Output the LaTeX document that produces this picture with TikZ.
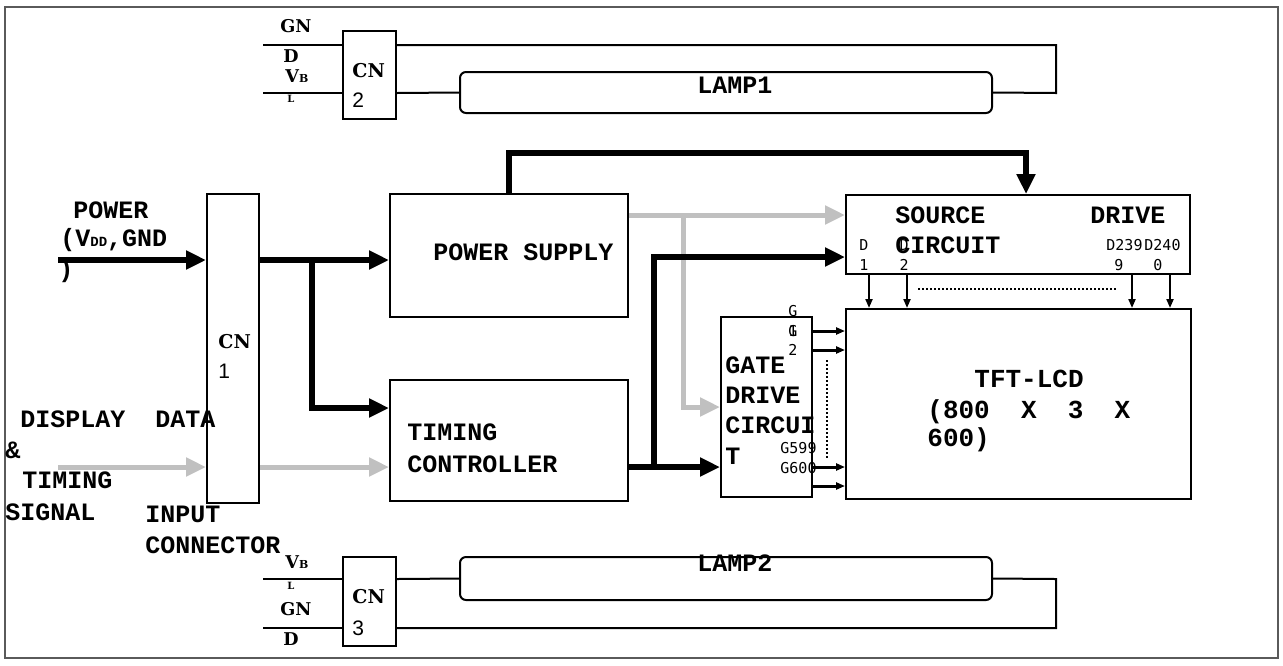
\documentclass[tikz,border=0pt]{standalone}
\usepackage{fontspec}
\setmainfont{Liberation Mono}
\newfontfamily\serifb{DejaVu Serif}
\newfontfamily\smono{DejaVu Sans Mono}
\newfontfamily\csans{Liberation Sans}
\usetikzlibrary{arrows.meta,fit}
\definecolor{grayc}{RGB}{192,192,192}
\definecolor{framec}{RGB}{90,90,90}
\begin{document}
\begin{tikzpicture}[x=0.5pt,y=-0.5pt,
  box/.style={draw, line width=1pt, inner sep=0pt},
  lampbox/.style={draw, line width=1pt, inner sep=0pt, rounded corners=3pt},
  wire/.style={line width=1pt},
  bigarrow/.style={line width=3pt, -{Triangle[length=10pt,width=9pt]}},
  grayarrow/.style={line width=2.5pt, color=grayc, -{Triangle[length=10pt,width=9pt]}},
  smallarrow/.style={line width=1pt, -{Triangle[length=4.5pt,width=3.5pt]}},
  gatearrow/.style={line width=1.5pt, -{Triangle[length=4.5pt,width=3.5pt]}},
  dotline/.style={line width=1pt, dash pattern=on 1pt off 1pt},
  txt/.style={anchor=base west, inner sep=0pt, font=\fontsize{12.5}{12.5}\selectfont\bfseries},
  bigtxt/.style={anchor=base west, inner sep=0pt, font=\fontsize{13}{13}\selectfont\bfseries},
  sertxt/.style={anchor=base west, inner sep=0pt, font=\serifb\bfseries\fontsize{8.8}{8.8}\selectfont},
  subtxt/.style={anchor=base west, inner sep=0pt, font=\serifb\bfseries\fontsize{5}{5}\selectfont},
  cntxt/.style={anchor=base west, inner sep=0pt, font=\serifb\bfseries\fontsize{9.5}{9.5}\selectfont},
  cnnum/.style={anchor=base west, inner sep=0pt, font=\csans\fontsize{10.5}{10.5}\selectfont},
  pintxt/.style={anchor=base, inner sep=0pt, font=\smono\fontsize{7.5}{7.5}\selectfont},
  pinw/.style={anchor=base west, inner sep=0pt, font=\smono\fontsize{7.5}{7.5}\selectfont}
]
\useasboundingbox (0,0) rectangle (1283,665);
\draw[line width=1pt, color=framec] (5,7) rectangle (1278,658);

% boxes
\node[box, fit={(343,31)(396,119)}] (cn2) {};
\node[box, fit={(343,557)(396,646)}] (cn3) {};
\node[lampbox, fit={(460,72)(992,113)}] (lamp1) {};
\node[lampbox, fit={(460,557)(992,600)}] (lamp2) {};
\node[box, fit={(207,194)(259,503)}] (cn1) {};
\node[box, fit={(390,194)(628,317)}] (ps) {};
\node[box, fit={(390,380)(628,501)}] (tc) {};
\node[box, fit={(846,195)(1190,274)}] (src) {};
\node[box, fit={(846,309)(1191,499)}] (tft) {};
\node[box, fit={(721,317)(812,497)}] (gate) {};

% lamp wires top
\coordinate (t1) at (263,45);
\coordinate (t2) at (263,93);
\coordinate (tr1) at (1056,45);
\coordinate (tr2) at (1056,93);
\draw[wire] (t1) -- (cn2.west |- t1);
\draw[wire] (cn2.east |- t1) -- (tr1) -- (tr2) -- (lamp1.east);
\draw[wire] (t2) -- (cn2.west |- t2);
\draw[wire] (cn2.east |- t2) -- (lamp1.west);

% lamp wires bottom
\coordinate (b1) at (263,579);
\coordinate (b2) at (263,628);
\coordinate (br1) at (1056,579);
\coordinate (br2) at (1056,628);
\draw[wire] (b1) -- (cn3.west |- b1);
\draw[wire] (cn3.east |- b1) -- (lamp2.west);
\draw[wire] (lamp2.east) -- (br1) -- (br2) -- (cn3.east |- br2);
\draw[wire] (b2) -- (cn3.west |- b2);

% power arrows
\coordinate (pin) at (58,260);
\draw[bigarrow] (pin) -- (cn1.west |- pin);
\draw[bigarrow] (cn1.east |- pin) -- (ps.west |- pin);
\coordinate (j1) at (312,260);
\coordinate (j1b) at (312,408);
\draw[bigarrow] (j1) -- (j1b) -- (tc.west |- j1b);
\coordinate (pt1) at (509,153);
\coordinate (pt2) at (1026,153);
\draw[bigarrow] (ps.north -| pt1) -- (pt1) -- (pt2) -- (src.north -| pt2);

% data arrows
\coordinate (din) at (58,467);
\draw[grayarrow] (din) -- (cn1.west |- din);
\draw[grayarrow] (cn1.east |- din) -- (tc.west |- din);
\coordinate (g1) at (683,215);
\coordinate (g2) at (683,407);
\draw[grayarrow] (ps.east |- g1) -- (src.west |- g1);
\draw[grayarrow] (g1) -- (g2) -- (gate.west |- g2);

\coordinate (k1) at (654,467);
\coordinate (k2) at (654,257);
\draw[bigarrow] (tc.east |- k1) -- (gate.west |- k1);
\draw[bigarrow] (k1) -- (k2) -- (src.west |- k2);

% source to tft
\foreach \xx in {869,907,1132,1170}{
  \coordinate (sx) at (\xx,0);
  \draw[smallarrow] (src.south -| sx) -- (tft.north -| sx);
}
\coordinate (dh1) at (918,289);
\coordinate (dh2) at (1118,289);
\draw[dotline] (dh1) -- (dh2);

% gate to tft
\foreach \yy in {331,350,467,486}{
  \coordinate (gy) at (0,\yy);
  \draw[gatearrow] (gate.east |- gy) -- (tft.west |- gy);
}
\coordinate (dv1) at (827,360);
\coordinate (dv2) at (827,458);
\draw[dotline] (dv1) -- (dv2);

% labels top connector
\node[sertxt] (tgn) at (280,32) {GN};
\node[sertxt] (td) at (283,62) {D};
\node[sertxt] (tv) at (285,82) {V{\fontsize{5.5}{5.5}\selectfont B}};
\node[subtxt] (tl) at (287,102) {L};
\node[cntxt] (tcn) at (352,77) {CN};
\node[cnnum] (tcn2) at (352,107) {2};
\node[txt] (l1) at (697,93) {LAMP1};

% labels bottom connector
\node[sertxt] (bv) at (285,568) {V{\fontsize{5.5}{5.5}\selectfont B}};
\node[subtxt] (bl) at (287,589) {L};
\node[sertxt] (bgn) at (280,615) {GN};
\node[sertxt] (bd) at (283,645) {D};
\node[cntxt] (bcn) at (352,603) {CN};
\node[cnnum] (bcn3) at (352,635) {3};
\node[txt] (l2) at (697,571) {LAMP2};

% CN1
\node[cntxt] (c1a) at (218,348) {CN};
\node[cnnum] (c1b) at (218,378) {1};

% left texts
\node[txt] (pw1) at (73,218) {POWER};
\node[txt] (pw2) at (60,246) {(V{\fontsize{7}{7}\selectfont DD},GND};
\node[txt] (pw3) at (58,277) {)};
\node[txt] (dd1) at (20,427) {DISPLAY~~DATA};
\node[txt] (dd2) at (5,458) {\&};
\node[txt] (dd3) at (22,488) {TIMING};
\node[txt] (dd4) at (5,520) {SIGNAL};
\node[txt] (ic1) at (145,522) {INPUT};
\node[txt] (ic2) at (145,553) {CONNECTOR};

% blocks text
\node[txt] (pst) at (433,260) {POWER SUPPLY};
\node[txt] (tct1) at (407,440) {TIMING};
\node[txt] (tct2) at (407,472) {CONTROLLER};
\node[txt] (sd1) at (895,223) {SOURCE};
\node[txt] (sd2) at (1090,223) {DRIVE};
\node[txt] (sd3) at (895,253) {CIRCUIT};
\node[txt] (gd1) at (725,373) {GATE};
\node[txt] (gd2) at (725,403) {DRIVE};
\node[txt] (gd3) at (725,433) {CIRCUI};
\node[txt] (gd4) at (725,464) {T};
\node[bigtxt] (tf1) at (974,387) {TFT-LCD};
\node[bigtxt] (tf2) at (927,418) {(800~~X~~3~~X};
\node[bigtxt] (tf3) at (927,446) {600)};

% pin labels
\node[pintxt] (p1a) at (864,250) {D};
\node[pintxt] (p1b) at (864,270) {1};
\node[pintxt] (p2a) at (904,250) {D};
\node[pintxt] (p2b) at (904,270) {2};
\node[pinw] (p3a) at (1106,250) {D239};
\node[pinw] (p4a) at (1144,250) {D240};
\node[pinw] (p3b) at (1114,270) {9};
\node[pinw] (p4b) at (1153,270) {0};
\node[pintxt] (q1a) at (793,316) {G};
\node[pintxt] (q1b) at (793,336) {1};
\node[pintxt] (q2a) at (793,336) {G};
\node[pintxt] (q2b) at (793,355) {2};
\node[pinw] (q3) at (780,453) {G599};
\node[pinw] (q4) at (780,473) {G600};
\end{tikzpicture}
\end{document}
